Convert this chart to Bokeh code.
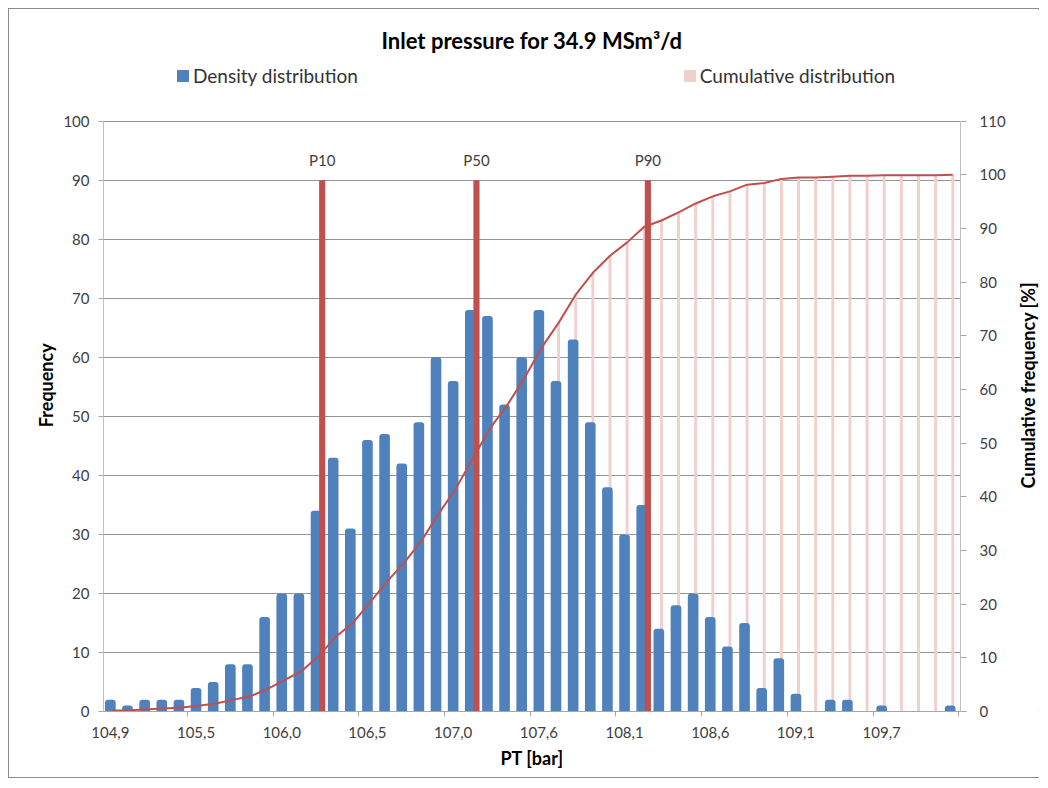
import math
from bokeh.plotting import figure
from bokeh.layouts import row
from bokeh.models import (ColumnDataSource, Range1d, LinearAxis, FixedTicker,
                          SingleIntervalTicker, Legend, LegendItem, Label)
from bokeh.transform import dodge
from bokeh.core.properties import value
from bokeh.embed import file_html
from bokeh.resources import INLINE

# ---------------- data ----------------
categories = ["104,9", "105,0", "105,1", "105,2", "105,3", "105,5", "105,6", "105,7", "105,8", "105,9",
              "106,0", "106,1", "106,2", "106,3", "106,4", "106,5", "106,6", "106,7", "106,8", "106,9",
              "107,0", "107,1", "107,2", "107,4", "107,5", "107,6", "107,7", "107,8", "107,9", "108,0",
              "108,1", "108,2", "108,3", "108,4", "108,5", "108,6", "108,7", "108,8", "108,9", "109,0",
              "109,1", "109,3", "109,4", "109,5", "109,6", "109,7", "109,8", "109,9", "110,0", "110,1"]
frequency = [2, 1, 2, 2, 2, 4, 5, 8, 8, 16,
             20, 20, 34, 43, 31, 46, 47, 42, 49, 60,
             56, 68, 67, 52, 60, 68, 56, 63, 49, 38,
             30, 35, 14, 18, 20, 16, 11, 15, 4, 9,
             3, 0, 2, 2, 0, 1, 0, 0, 0, 1]
cumulative_pct = [0.17, 0.25, 0.42, 0.58, 0.75, 1.08, 1.5, 2.17, 2.83, 4.17,
                  5.83, 7.5, 10.33, 13.92, 16.5, 20.33, 24.25, 27.75, 31.83, 36.83,
                  41.5, 47.17, 52.75, 57.08, 62.08, 67.75, 72.42, 77.67, 81.75, 84.92,
                  87.42, 90.33, 91.5, 93.0, 94.67, 96.0, 96.92, 98.17, 98.5, 99.25,
                  99.5, 99.5, 99.67, 99.83, 99.83, 99.92, 99.92, 99.92, 99.92, 100.0]
percentile_labels = ["P10", "P50", "P90"]
percentile_category = [12, 21, 31]
percentile_height = [90, 90, 90]
freq_axis_max = 100
cum_axis_max = 110
tick_step = 10
label_every = 5

title_text = "Inlet pressure for 34.9 MSm\u00b3/d"
x_title = "PT [bar]"
y_title = "Frequency"
y2_title = "Cumulative frequency [%]"

# ---------------- style / layout ----------------
FONT = "Lato"
BLUE = "#4F81BD"
RED = "#C0504D"
PINK = "#F0CFCF"
TXT = "#404040"

H = 770
LEFT_W, MAIN_W, RIGHT_W = 49, 950, 32
FRAME_L, FRAME_R = 45, 905          # data area inside the main figure (px)
DATA_TOP, FRAME_B = 112, 704        # top of the 0..100 scale, bottom of frame
FRAME_T = 8                         # frame extends above the data area for title/legend
px_per_unit = (FRAME_B - DATA_TOP) / freq_axis_max
left_top = (FRAME_B - FRAME_T) / px_per_unit
right_top = left_top * cum_axis_max / freq_axis_max

n = len(categories)
xs = list(range(n))
src = ColumnDataSource(dict(x=xs, freq=frequency, cum=cumulative_pct))
psrc = ColumnDataSource(dict(x=percentile_category, top=percentile_height, label=percentile_labels))

p = figure(width=MAIN_W, height=H,
           x_range=Range1d(-0.4, n - 0.4), y_range=Range1d(0, left_top),
           output_backend="svg", toolbar_location=None,
           min_border_left=FRAME_L, min_border_right=MAIN_W - FRAME_R,
           min_border_top=FRAME_T, min_border_bottom=H - FRAME_B)
p.extra_y_ranges = {"cum": Range1d(0, right_top)}
p.outline_line_color = None
p.background_fill_color = "white"
p.border_fill_color = "white"

# glyphs
pink = p.vbar(x=dodge("x", 0.15, range=p.x_range), top="cum", width=0.17, bottom=0,
              source=src, y_range_name="cum", fill_color=PINK, line_color=None)
blue = p.vbar(x="x", top="freq", width=0.62, bottom=0, source=src,
              fill_color=BLUE, line_color=None, border_radius=(3, 3, 0, 0))
p.vbar(x=dodge("x", 0.36, range=p.x_range), top="top", width=0.36, bottom=0, source=psrc,
       fill_color=RED, line_color=None)
p.line(x=dodge("x", 0.15, range=p.x_range), y="cum", source=src, y_range_name="cum",
       line_color=RED, line_width=2)
p.text(x=dodge("x", 0.36, range=p.x_range), y="top", text="label", source=psrc,
       text_align="center", text_baseline="bottom", y_offset=-11,
       text_font=value(FONT), text_font_size="15px", text_color=TXT)

# grid
p.xgrid.visible = False
p.ygrid.grid_line_color = "#959595"
p.ygrid.grid_line_width = 1
p.ygrid.ticker = FixedTicker(ticks=list(range(0, freq_axis_max + 1, tick_step)))

# x axis
major = list(range(0, n, label_every))
minor = [i - 0.5 for i in range(0, n + 1, label_every)]
xa = p.xaxis[0]
xa.ticker = FixedTicker(ticks=major, minor_ticks=minor)
xa.major_label_overrides = {i: categories[i] for i in major}
xa.major_tick_out = 0
xa.major_tick_in = 0
xa.minor_tick_out = 5
xa.minor_tick_in = 0
xa.minor_tick_line_color = "#a6a6a6"
xa.axis_line_color = "#a6a6a6"
xa.major_label_standoff = 10
xa.major_label_text_font = FONT
xa.major_label_text_font_size = "15px"
xa.major_label_text_color = TXT
xa.axis_label = x_title
xa.axis_label_text_font = FONT
xa.axis_label_text_font_size = "18px"
xa.axis_label_text_font_style = "bold"
xa.axis_label_text_color = "#000000"
xa.axis_label_standoff = 6

# left axis
ya = p.yaxis[0]
ya.bounds = (0, freq_axis_max)
ya.ticker = SingleIntervalTicker(interval=tick_step)
ya.major_tick_out = 5
ya.major_tick_in = 0
ya.minor_tick_out = 0
ya.minor_tick_in = 0
ya.major_tick_line_color = "#a6a6a6"
ya.axis_line_color = "#bfbfbf"
ya.major_label_standoff = 9
ya.major_label_text_font = FONT
ya.major_label_text_font_size = "15px"
ya.major_label_text_color = TXT

# right axis
ra = LinearAxis(y_range_name="cum", ticker=SingleIntervalTicker(interval=tick_step),
                bounds=(0, cum_axis_max))
ra.major_tick_out = 6
ra.major_tick_in = 0
ra.minor_tick_out = 0
ra.minor_tick_in = 0
ra.major_tick_line_color = "#a6a6a6"
ra.axis_line_color = "#bfbfbf"
ra.major_label_standoff = 13
ra.major_label_text_font = FONT
ra.major_label_text_font_size = "15px"
ra.major_label_text_color = TXT
p.add_layout(ra, "right")

# title (inside the extended frame, above the data area)
title_center_px = 31
p.add_layout(Label(x=(p.x_range.start + p.x_range.end) / 2,
                   y=(FRAME_B - title_center_px) / px_per_unit,
                   text=title_text, text_align="center", text_baseline="middle",
                   text_font=FONT, text_font_size="22px", text_font_style="bold",
                   text_color="#000000"))

# legend
legend = Legend(items=[LegendItem(label="Density distribution", renderers=[blue]),
                       LegendItem(label="Cumulative distribution", renderers=[pink])],
                orientation="horizontal", location=(72, 624), spacing=324,
                padding=0, margin=0, border_line_color=None, background_fill_alpha=0,
                glyph_width=15, glyph_height=15, label_standoff=3,
                label_text_font=FONT, label_text_font_size="19px", label_text_color="#333333")
p.add_layout(legend, "center")


# side strips holding the vertical axis titles (centred on the data area)
def side_strip(width, text, cx):
    s = figure(width=width, height=H, x_range=Range1d(0, width), y_range=Range1d(0, H),
               output_backend="svg", toolbar_location=None, min_border=0,
               min_border_left=0, min_border_right=0, min_border_top=0, min_border_bottom=0)
    s.axis.visible = False
    s.grid.visible = False
    s.outline_line_color = None
    s.background_fill_color = "white"
    s.border_fill_color = "white"
    cy = H - (DATA_TOP + FRAME_B) / 2
    s.add_layout(Label(x=cx, y=cy, text=text, angle=math.pi / 2,
                       text_align="center", text_baseline="middle",
                       text_font=FONT, text_font_size="18px", text_font_style="bold",
                       text_color="#000000"))
    return s


left_strip = side_strip(LEFT_W, y_title, 36)
right_strip = side_strip(RIGHT_W, y2_title, 19)

layout = row(left_strip, p, right_strip, spacing=0)
layout.styles = {"border": "1px solid #8c8c8c", "margin-left": "8px", "margin-top": "8px",
                 "width": f"{LEFT_W + MAIN_W + RIGHT_W}px", "height": f"{H}px"}

open("out.html", "w").write(file_html(layout, INLINE))
